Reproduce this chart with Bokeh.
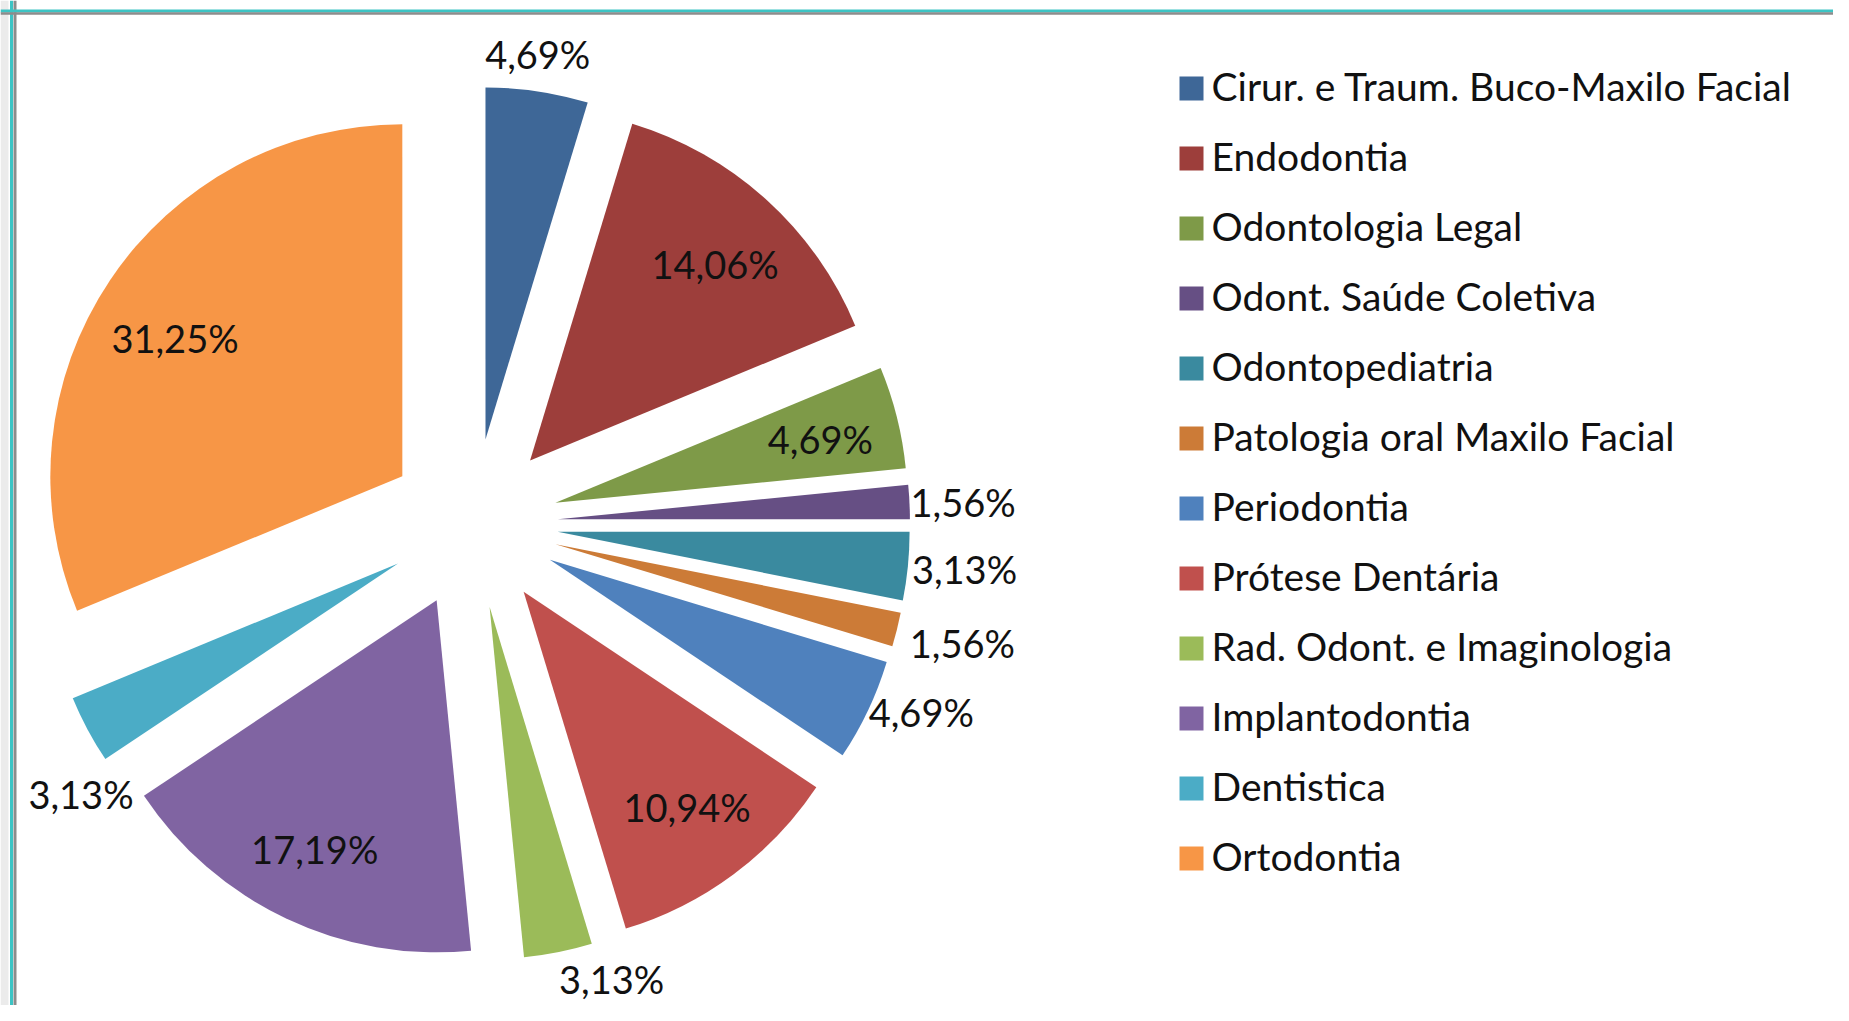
import math
from bokeh.plotting import figure
from bokeh.models import Range1d, ColumnDataSource, Span
from bokeh.core.properties import value
from bokeh.embed import file_html
from bokeh.resources import INLINE

# ---------------- data ----------------
categories = [
    "Cirur. e Traum. Buco-Maxilo Facial",
    "Endodontia",
    "Odontologia Legal",
    "Odont. Saúde Coletiva",
    "Odontopediatria",
    "Patologia oral Maxilo Facial",
    "Periodontia",
    "Prótese Dentária",
    "Rad. Odont. e Imaginologia",
    "Implantodontia",
    "Dentistica",
    "Ortodontia",
]
percentages = [4.69, 14.06, 4.69, 1.56, 3.13, 1.56, 4.69, 10.94, 3.13, 17.19, 3.13, 31.25]

# ---------------- styles ----------------
colors = ["#3E6797", "#9D3E3B", "#7E9A48", "#664F84", "#3A8A9F", "#CC7B37",
          "#4F81BD", "#C0504D", "#9BBB59", "#8064A2", "#4BACC6", "#F79646"]
label_mode = ["out", "in", "in", "out", "out", "out", "out", "in", "out", "in", "out", "in"]
label_align = ["center", "center", "center", "left", "left", "left", "left", "center",
               "left", "center", "center", "center"]
label_base = ["bottom", "middle", "middle", "middle", "middle", "middle", "middle", "middle",
              "top", "middle", "top", "middle"]
# small nudges (screen px, y down) for the labels
label_nudge = [(0, -10), (3, 4), (2, 2), (-3, 0), (0, 2), (9, 12), (-3, 0), (2, -2),
               (0, 0), (-6, 4), (-3, 40), (-2, 12)]

FONT = "Lato"
FS = "38px"
LFS = "39px"
W, H = 1833, 1005
REF_H = 1021
CX, CY = 472.5, REF_H - 523   # pie centre (data units = px)
R = 352                        # pie radius
EXPLODE = 85                   # explosion distance
IN_FRAC = 0.77
OUT_GAP = 4

def ydat(y_screen):
    return REF_H - y_screen

# ---------------- geometry ----------------
total = sum(percentages)
starts, ends, xs, ys = [], [], [], []
lx, ly = [], []
cum = 0.0
for i, v in enumerate(percentages):
    a0 = math.pi / 2 - 2 * math.pi * cum / total
    cum += v
    a1 = math.pi / 2 - 2 * math.pi * cum / total
    mid = (a0 + a1) / 2
    ax = CX + EXPLODE * math.cos(mid)
    ay = CY + EXPLODE * math.sin(mid)
    starts.append(a0); ends.append(a1); xs.append(ax); ys.append(ay)
    if label_mode[i] == "in":
        d = IN_FRAC * R
    else:
        d = R + OUT_GAP
    nx, ny = label_nudge[i]
    lx.append(ax + d * math.cos(mid) + nx)
    ly.append(ay + d * math.sin(mid) - ny)

texts = [("%.2f" % v).replace(".", ",") + "%" for v in percentages]

p = figure(width=W, height=H, output_backend="svg", toolbar_location=None,
           x_range=Range1d(0, W), y_range=Range1d(REF_H - H, REF_H),
           min_border=0, tools="")
p.xaxis.visible = False
p.yaxis.visible = False
p.grid.visible = False
p.outline_line_color = None
p.background_fill_color = "white"
p.border_fill_color = "white"

src = ColumnDataSource(dict(x=xs, y=ys, start=starts, end=ends, color=colors, cat=categories))
p.wedge(x="x", y="y", radius=R, start_angle="start", end_angle="end", direction="clock",
        fill_color="color", line_color=None, source=src)

# data labels, grouped by alignment
groups = {}
for i in range(len(percentages)):
    groups.setdefault((label_align[i], label_base[i]), []).append(i)
for (al, bl), idx in groups.items():
    s = ColumnDataSource(dict(x=[lx[i] for i in idx], y=[ly[i] for i in idx],
                              t=[texts[i] for i in idx]))
    p.text(x="x", y="y", text="t", source=s, text_font=value(FONT), text_font_size=FS,
           text_color="#111111", text_align=al, text_baseline=bl)

# legend
LEG_X, LEG_Y0, LEG_STEP, SW = 1191, 88, 70, 24
leg_y = [ydat(LEG_Y0 + LEG_STEP * i) for i in range(len(categories))]
lsrc = ColumnDataSource(dict(x=[LEG_X] * len(categories), y=leg_y, color=colors,
                             tx=[LEG_X + 20] * len(categories),
                             ty=[v + 3 for v in leg_y], cat=categories))
p.rect(x="x", y="y", width=SW, height=SW, fill_color="color", line_color=None, source=lsrc)
p.text(x="tx", y="ty", text="cat", source=lsrc, text_font=value(FONT), text_font_size=LFS,
       text_color="#111111", text_align="left", text_baseline="middle")

# chart frame (top and left edges visible)
p.add_layout(Span(location=4, dimension="height", line_color="#EBEBEB", line_width=8))
for loc, dim, col, w in [(11, "height", "#3CC4C4", 3), (14.5, "height", "#8C8C8C", 3),
                         (ydat(10.5), "width", "#3CC4C4", 3), (ydat(13), "width", "#8C8C8C", 2.5)]:
    p.add_layout(Span(location=loc, dimension=dim, line_color=col, line_width=w))

open("out.html", "w").write(file_html(p, INLINE))
